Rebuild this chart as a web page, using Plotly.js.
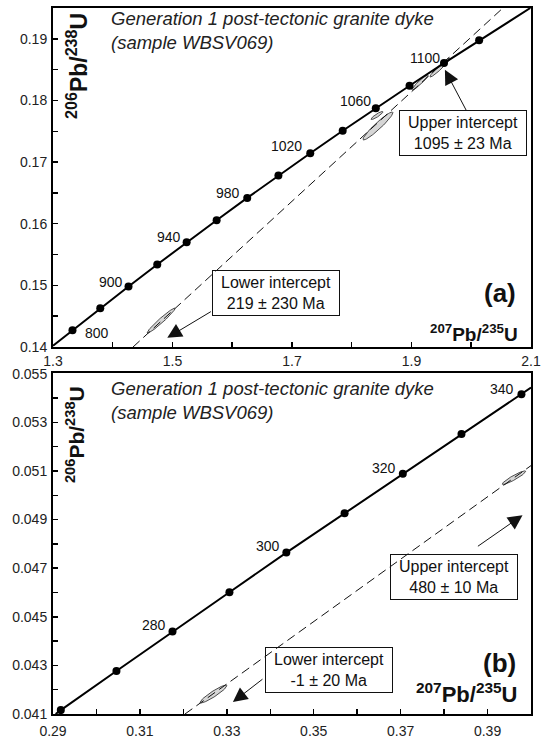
<!DOCTYPE html>
<html><head><meta charset="utf-8">
<script src="https://cdn.plot.ly/plotly-3.0.1.min.js"></script>
<style>html,body{margin:0;padding:0;background:#fff}#chart{width:541px;height:743px}</style>
</head><body><div id="chart"></div>
<script>
// ---------- Panel (a) data ----------
const concA_ages = [860, 880, 900, 920, 940, 960, 980, 1000, 1020, 1040, 1060, 1080, 1100, 1120];
const concA_x = [1.3326, 1.3791, 1.4264, 1.4745, 1.5237, 1.5739, 1.6251, 1.6773, 1.7306, 1.7849, 1.8403, 1.8968, 1.9545, 2.0133];
const concA_y = [0.14272, 0.14627, 0.14983, 0.15339, 0.15698, 0.16057, 0.16419, 0.16782, 0.17143, 0.17508, 0.17872, 0.18239, 0.18606, 0.18975];
const concA_endX = [1.300, 2.099];
const concA_endY = [0.1402, 0.1950];
const discA_x = [1.4339, 2.0531];
const discA_y = [0.140, 0.195];
const ellA_x = [1.4808, 1.8439, 1.8423, 1.9142, 1.9477];
const ellA_sx = [0.0234, 0.0251, 0.0100, 0.0134, 0.0167];
const ellA_y = [0.14427, 0.17586, 0.17756, 0.18291, 0.18535];
const ellA_sy = [0.00203, 0.00227, 0.00065, 0.00122, 0.00154];
const ellA_rho = [0.97, 0.95, 0.90, 0.95, 0.96];
const labA_text = ['800', '900', '940', '980', '1020', '1060', '1100'];
const labA_x = [1.3731, 1.3971, 1.4936, 1.5929, 1.6911, 1.8066, 1.9221];
const labA_y = [0.14222, 0.15059, 0.15785, 0.16494, 0.17264, 0.17994, 0.18692];

// ---------- Panel (b) data ----------
const concB_ages = [260, 270, 280, 290, 300, 310, 320, 330, 340];
const concB_x = [0.2918, 0.3046, 0.3175, 0.3306, 0.3437, 0.3571, 0.3705, 0.3840, 0.3978];
const concB_y = [0.04116, 0.04277, 0.04439, 0.04601, 0.04764, 0.04926, 0.05089, 0.05252, 0.05416];
const concB_endX = [0.2906, 0.400];
const concB_endY = [0.0410, 0.05443];
const discB_x = [0.32038, 0.400];
const discB_y = [0.041, 0.05122];
const ellB_x = [0.32693, 0.39609];
const ellB_sx = [0.0031, 0.0027];
const ellB_y = [0.041822, 0.050724];
const ellB_sy = [0.00037, 0.00028];
const ellB_rho = [0.93, 0.93];
const labB_text = ['280', '300', '320', '340'];
const labB_x = [0.31324, 0.33959, 0.36624, 0.39333];
const labB_y = [0.044647, 0.047908, 0.051135, 0.054375];

const FONT = 'Liberation Sans, Arial, Helvetica, sans-serif';

function ellipsePts(cx, sx, cy, sy, r) {
  const xs = [], ys = [];
  const n = 90;
  for (let i = 0; i <= n; i++) {
    const t = 2 * Math.PI * i / n;
    const u = Math.cos(t);
    const v = r * Math.cos(t) + Math.sqrt(1 - r * r) * Math.sin(t);
    xs.push(cx + sx * u); ys.push(cy + sy * v);
  }
  return [xs, ys];
}

const traces = [];
function addEllipses(X, SX, Y, SY, R, xa, ya) {
  for (let i = 0; i < X.length; i++) {
    const [xs, ys] = ellipsePts(X[i], SX[i], Y[i], SY[i], R[i]);
    traces.push({type: 'scatter', mode: 'lines', x: xs, y: ys, xaxis: xa, yaxis: ya,
      fill: 'toself', fillcolor: '#d6d6d6', line: {color: '#3a3a3a', width: 0.9}, hoverinfo: 'skip'});
  }
}
addEllipses(ellA_x, ellA_sx, ellA_y, ellA_sy, ellA_rho, 'x', 'y');
addEllipses(ellB_x, ellB_sx, ellB_y, ellB_sy, ellB_rho, 'x2', 'y2');

traces.push({type: 'scatter', mode: 'lines', x: discA_x, y: discA_y, xaxis: 'x', yaxis: 'y',
  line: {color: '#111', width: 1, dash: '9px,5px'}});
traces.push({type: 'scatter', mode: 'lines', x: discB_x, y: discB_y, xaxis: 'x2', yaxis: 'y2',
  line: {color: '#111', width: 1, dash: '9px,5px'}});

traces.push({type: 'scatter', mode: 'lines', x: [concA_endX[0]].concat(concA_x, [concA_endX[1]]),
  y: [concA_endY[0]].concat(concA_y, [concA_endY[1]]), xaxis: 'x', yaxis: 'y', line: {color: '#000', width: 2}});
traces.push({type: 'scatter', mode: 'markers', x: concA_x, y: concA_y, text: concA_ages, xaxis: 'x', yaxis: 'y',
  marker: {color: '#000', size: 8}});
traces.push({type: 'scatter', mode: 'lines', x: [concB_endX[0]].concat(concB_x, [concB_endX[1]]),
  y: [concB_endY[0]].concat(concB_y, [concB_endY[1]]), xaxis: 'x2', yaxis: 'y2', line: {color: '#000', width: 2}});
traces.push({type: 'scatter', mode: 'markers', x: concB_x, y: concB_y, text: concB_ages, xaxis: 'x2', yaxis: 'y2',
  marker: {color: '#000', size: 8}});

const ann = [];
labA_text.forEach((t, i) => ann.push({xref: 'x', yref: 'y', x: labA_x[i], y: labA_y[i], text: t, showarrow: false,
  xanchor: 'center', yanchor: 'middle', font: {family: FONT, size: 14, color: '#111'}}));
labB_text.forEach((t, i) => ann.push({xref: 'x2', yref: 'y2', x: labB_x[i], y: labB_y[i], text: t, showarrow: false,
  xanchor: 'center', yanchor: 'middle', font: {family: FONT, size: 14, color: '#111'}}));

function titleBlock(xr, yr, yc) {
  ann.push({xref: xr + ' domain', yref: yr + ' domain', x: 0.1192, y: yc, xanchor: 'left', yanchor: 'middle', align: 'left',
    text: '<i>Generation 1 post-tectonic granite dyke<br>(sample WBSV069)</i>', showarrow: false,
    borderpad: 0, font: {family: FONT, size: 18.5, color: '#222'}});
}
titleBlock('x', 'y', 0.935);
titleBlock('x2', 'y2', 0.922);

// axis titles inside plots
ann.push({xref: 'x domain', yref: 'y domain', x: 0.0502, y: 0.829, xanchor: 'center', yanchor: 'middle', textangle: -90, showarrow: false,
  text: '<b><sup>206</sup>Pb/<sup>238</sup>U</b>', font: {family: FONT, size: 23, color: '#111'}});
ann.push({xref: 'x2 domain', yref: 'y2 domain', x: 0.046, y: 0.822, xanchor: 'center', yanchor: 'middle', textangle: -90, showarrow: false,
  text: '<b><sup>206</sup>Pb/<sup>238</sup>U</b>', font: {family: FONT, size: 21, color: '#111'}});
ann.push({xref: 'x domain', yref: 'y domain', x: 0.977, y: 0.041, xanchor: 'right', yanchor: 'middle', showarrow: false,
  text: '<b><sup>207</sup>Pb/<sup>235</sup>U</b>', font: {family: FONT, size: 19, color: '#111'}});
ann.push({xref: 'x2 domain', yref: 'y2 domain', x: 0.977, y: 0.063, xanchor: 'right', yanchor: 'middle', showarrow: false,
  text: '<b><sup>207</sup>Pb/<sup>235</sup>U</b>', font: {family: FONT, size: 22, color: '#111'}});
ann.push({xref: 'x domain', yref: 'y domain', x: 0.973, y: 0.158, xanchor: 'right', yanchor: 'middle', showarrow: false,
  text: '<b>(a)</b>', font: {family: FONT, size: 26, color: '#111'}});
ann.push({xref: 'x2 domain', yref: 'y2 domain', x: 0.973, y: 0.151, xanchor: 'right', yanchor: 'middle', showarrow: false,
  text: '<b>(b)</b>', font: {family: FONT, size: 26, color: '#111'}});

// intercept boxes
function box(xr, yr, x, y, t) {
  ann.push({xref: xr, yref: yr, x: x, y: y, text: t, showarrow: false, align: 'center', xanchor: 'center', yanchor: 'middle',
    bordercolor: '#111', borderwidth: 1, borderpad: 3, bgcolor: 'rgba(0,0,0,0)', width: 120,
    font: {family: FONT, size: 16, color: '#111'}});
}
box('x', 'y', 1.6725, 0.14873, 'Lower intercept<br>219 ± 230 Ma');
box('x', 'y', 1.9871, 0.17476, 'Upper intercept<br>1095 ± 23 Ma');
box('x2', 'y2', 0.38237, 0.04665, 'Upper intercept<br>480 ± 10 Ma');
box('x2', 'y2', 0.35342, 0.04281, 'Lower intercept<br>-1 ± 20 Ma');

// arrows
function arrow(xr, yr, x, y, ax, ay) {
  ann.push({xref: xr, yref: yr, axref: xr, ayref: yr, x: x, y: y, ax: ax, ay: ay, text: '', showarrow: true,
    arrowhead: 2, arrowsize: 2.9, arrowwidth: 1, arrowcolor: '#111', standoff: 0, startstandoff: 0});
}
arrow('x', 'y', 1.4913, 0.1415, 1.5668, 0.14589);
arrow('x', 'y', 1.956, 0.18497, 1.993, 0.17816);
arrow('x2', 'y2', 0.39805, 0.04918, 0.38744, 0.04786);
arrow('x2', 'y2', 0.3314, 0.04149, 0.33855, 0.04248);

function axisBase(extra) {
  return Object.assign({
    tickmode: 'linear', ticks: 'inside', ticklen: 5, tickwidth: 1.5, tickcolor: '#000',
    showgrid: false, zeroline: false, showline: true, linewidth: 2, linecolor: '#000', mirror: true,
    tickfont: {family: FONT, size: 14, color: '#222'}
  }, extra);
}
const minor = (t0, d) => ({ticks: 'inside', ticklen: 5, tickwidth: 1.5, tickcolor: '#000', tick0: t0, dtick: d, showgrid: false});

const layout = {
  width: 541, height: 743, margin: {l: 53, r: 10, t: 8, b: 29},
  paper_bgcolor: '#fff', plot_bgcolor: '#fff', showlegend: false,
  font: {family: FONT, size: 14, color: '#111'},
  xaxis: axisBase({anchor: 'y', domain: [0, 1], range: [1.3, 2.1001], tick0: 1.3, dtick: 0.2, tickformat: '.1f',
    minor: minor(1.3, 0.1), ticklabelstandoff: 0}),
  yaxis: axisBase({anchor: 'x', domain: [0.5198, 1], range: [0.14, 0.195], tick0: 0.14, dtick: 0.01, tickformat: '.2f',
    minor: minor(0.14, 0.005), ticklabelstandoff: 1}),
  xaxis2: axisBase({anchor: 'y2', domain: [0, 1], range: [0.29, 0.40], tick0: 0.29, dtick: 0.02, tickformat: '.2f',
    minor: minor(0.29, 0.01), ticklabelstandoff: 3}),
  yaxis2: axisBase({anchor: 'x2', domain: [0, 0.4823], range: [0.041, 0.05501], tick0: 0.041, dtick: 0.002, tickformat: '.3f',
    minor: minor(0.041, 0.001), ticklabelstandoff: 1}),
  annotations: ann
};

Plotly.newPlot('chart', traces, layout, {staticPlot: true, displayModeBar: false});
</script>
</body></html>
